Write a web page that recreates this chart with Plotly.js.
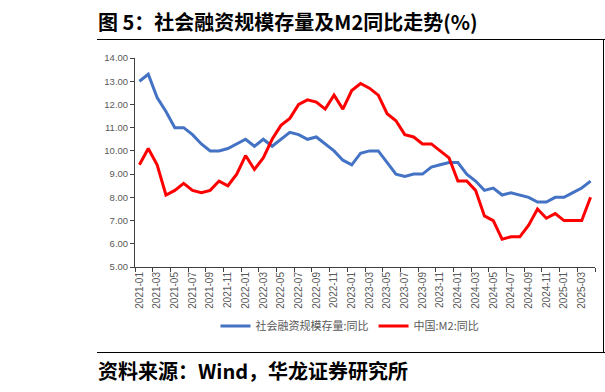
<!DOCTYPE html>
<html>
<head>
<meta charset="utf-8">
<script src="https://cdn.plot.ly/plotly-3.0.1.min.js"></script>
<style>
  html, body { margin: 0; padding: 0; background: #fff; }
  #chart { width: 605px; height: 392px; }
</style>
</head>
<body>
<div id="chart"></div>
<script>
// ---- data ----
const months = [
  "2021-01","2021-02","2021-03","2021-04","2021-05","2021-06","2021-07","2021-08","2021-09","2021-10","2021-11","2021-12",
  "2022-01","2022-02","2022-03","2022-04","2022-05","2022-06","2022-07","2022-08","2022-09","2022-10","2022-11","2022-12",
  "2023-01","2023-02","2023-03","2023-04","2023-05","2023-06","2023-07","2023-08","2023-09","2023-10","2023-11","2023-12",
  "2024-01","2024-02","2024-03","2024-04","2024-05","2024-06","2024-07","2024-08","2024-09","2024-10","2024-11","2024-12",
  "2025-01","2025-02","2025-03","2025-04"
];
const afreYoY = [
  13.0, 13.3, 12.3, 11.7, 11.0, 11.0, 10.7, 10.3, 10.0, 10.0, 10.1, 10.3,
  10.5, 10.2, 10.5, 10.2, 10.5, 10.8, 10.7, 10.5, 10.6, 10.3, 10.0, 9.6,
  9.4, 9.9, 10.0, 10.0, 9.5, 9.0, 8.9, 9.0, 9.0, 9.3, 9.4, 9.5,
  9.5, 9.0, 8.7, 8.3, 8.4, 8.1, 8.2, 8.1, 8.0, 7.8, 7.8, 8.0,
  8.0, 8.2, 8.4, 8.7
];
const m2YoY = [
  9.4, 10.1, 9.4, 8.1, 8.3, 8.6, 8.3, 8.2, 8.3, 8.7, 8.5, 9.0,
  9.8, 9.2, 9.7, 10.5, 11.1, 11.4, 12.0, 12.2, 12.1, 11.8, 12.4, 11.8,
  12.6, 12.9, 12.7, 12.4, 11.6, 11.3, 10.7, 10.6, 10.3, 10.3, 10.0, 9.7,
  8.7, 8.7, 8.3, 7.2, 7.0, 6.2, 6.3, 6.3, 6.8, 7.5, 7.1, 7.3,
  7.0, 7.0, 7.0, 8.0
];
const seriesNames = ["社会融资规模存量:同比", "中国:M2:同比"];
const yTicks = [5, 6, 7, 8, 9, 10, 11, 12, 13, 14];
const yTickText = ["5.00","6.00","7.00","8.00","9.00","10.00","11.00","12.00","13.00","14.00"];
const titleText = "图 5：社会融资规模存量及M2同比走势(%)";
const sourceText = "资料来源：Wind，华龙证券研究所";

// ---- layout helpers (pixel -> paper) ----
const W = 605, H = 392, L = 135, R = 10, T = 58, B = 125;
const PW = W - L - R, PH = H - T - B;
const px = x => (x - L) / PW;
const py = y => (H - B - y) / PH;

const cjk = '"Noto Sans CJK SC", "Noto Sans", sans-serif';
const tickFont = 'Liberation Sans, Arial, sans-serif';

const traces = [
  { x: months, y: afreYoY, name: seriesNames[0], type: 'scatter', mode: 'lines',
    line: { color: '#4472C4', width: 3 } },
  { x: months, y: m2YoY, name: seriesNames[1], type: 'scatter', mode: 'lines',
    line: { color: '#FF0000', width: 3 } }
];

const layout = {
  width: W, height: H,
  margin: { l: L, r: R, t: T, b: B },
  paper_bgcolor: '#fff', plot_bgcolor: '#fff',
  showlegend: true,
  legend: {
    orientation: 'h', x: px(350), xanchor: 'center', y: py(326), yanchor: 'middle',
    font: { family: cjk, size: 11, color: '#595959' },
    itemwidth: 30, tracegroupgap: 0, bgcolor: 'rgba(0,0,0,0)'
  },
  xaxis: {
    type: 'category', tickmode: 'linear', tick0: 0, dtick: 2,
    tickson: 'boundaries', ticks: 'outside', ticklen: 4, tickcolor: '#404040',
    tickangle: -90, tickfont: { family: tickFont, size: 10, color: '#595959' },
    showline: true, linecolor: '#404040', linewidth: 1,
    showgrid: false, zeroline: false, range: [-0.5, months.length - 0.5], fixedrange: true
  },
  yaxis: {
    range: [5, 14], tickmode: 'array', tickvals: yTicks, ticktext: yTickText,
    ticks: 'outside', ticklen: 4, tickcolor: '#404040',
    tickfont: { family: tickFont, size: 9.5, color: '#595959' },
    showline: true, linecolor: '#404040', linewidth: 1,
    showgrid: false, zeroline: false, fixedrange: true
  },
  shapes: [
    { type: 'line', xref: 'paper', yref: 'paper', x0: px(97), x1: px(605), y0: py(39.5), y1: py(39.5),
      line: { color: '#000', width: 1 } },
    { type: 'line', xref: 'paper', yref: 'paper', x0: px(97), x1: px(605), y0: py(352.5), y1: py(352.5),
      line: { color: '#000', width: 1 } },
    { type: 'line', xref: 'paper', yref: 'paper', x0: px(603.5), x1: px(603.5), y0: py(39.5), y1: py(352.5),
      line: { color: '#000', width: 1 } }
  ],
  annotations: [
    { text: '<b>' + titleText + '</b>', xref: 'paper', yref: 'paper', x: px(96), y: py(21),
      xanchor: 'left', yanchor: 'middle', showarrow: false,
      font: { family: cjk, size: 20, color: '#000' } },
    { text: '<b>' + sourceText + '</b>', xref: 'paper', yref: 'paper', x: px(96), y: py(370),
      xanchor: 'left', yanchor: 'middle', showarrow: false,
      font: { family: cjk, size: 20, color: '#000' } }
  ]
};

Plotly.newPlot('chart', traces, layout, { staticPlot: true, displayModeBar: false });
</script>
</body>
</html>
